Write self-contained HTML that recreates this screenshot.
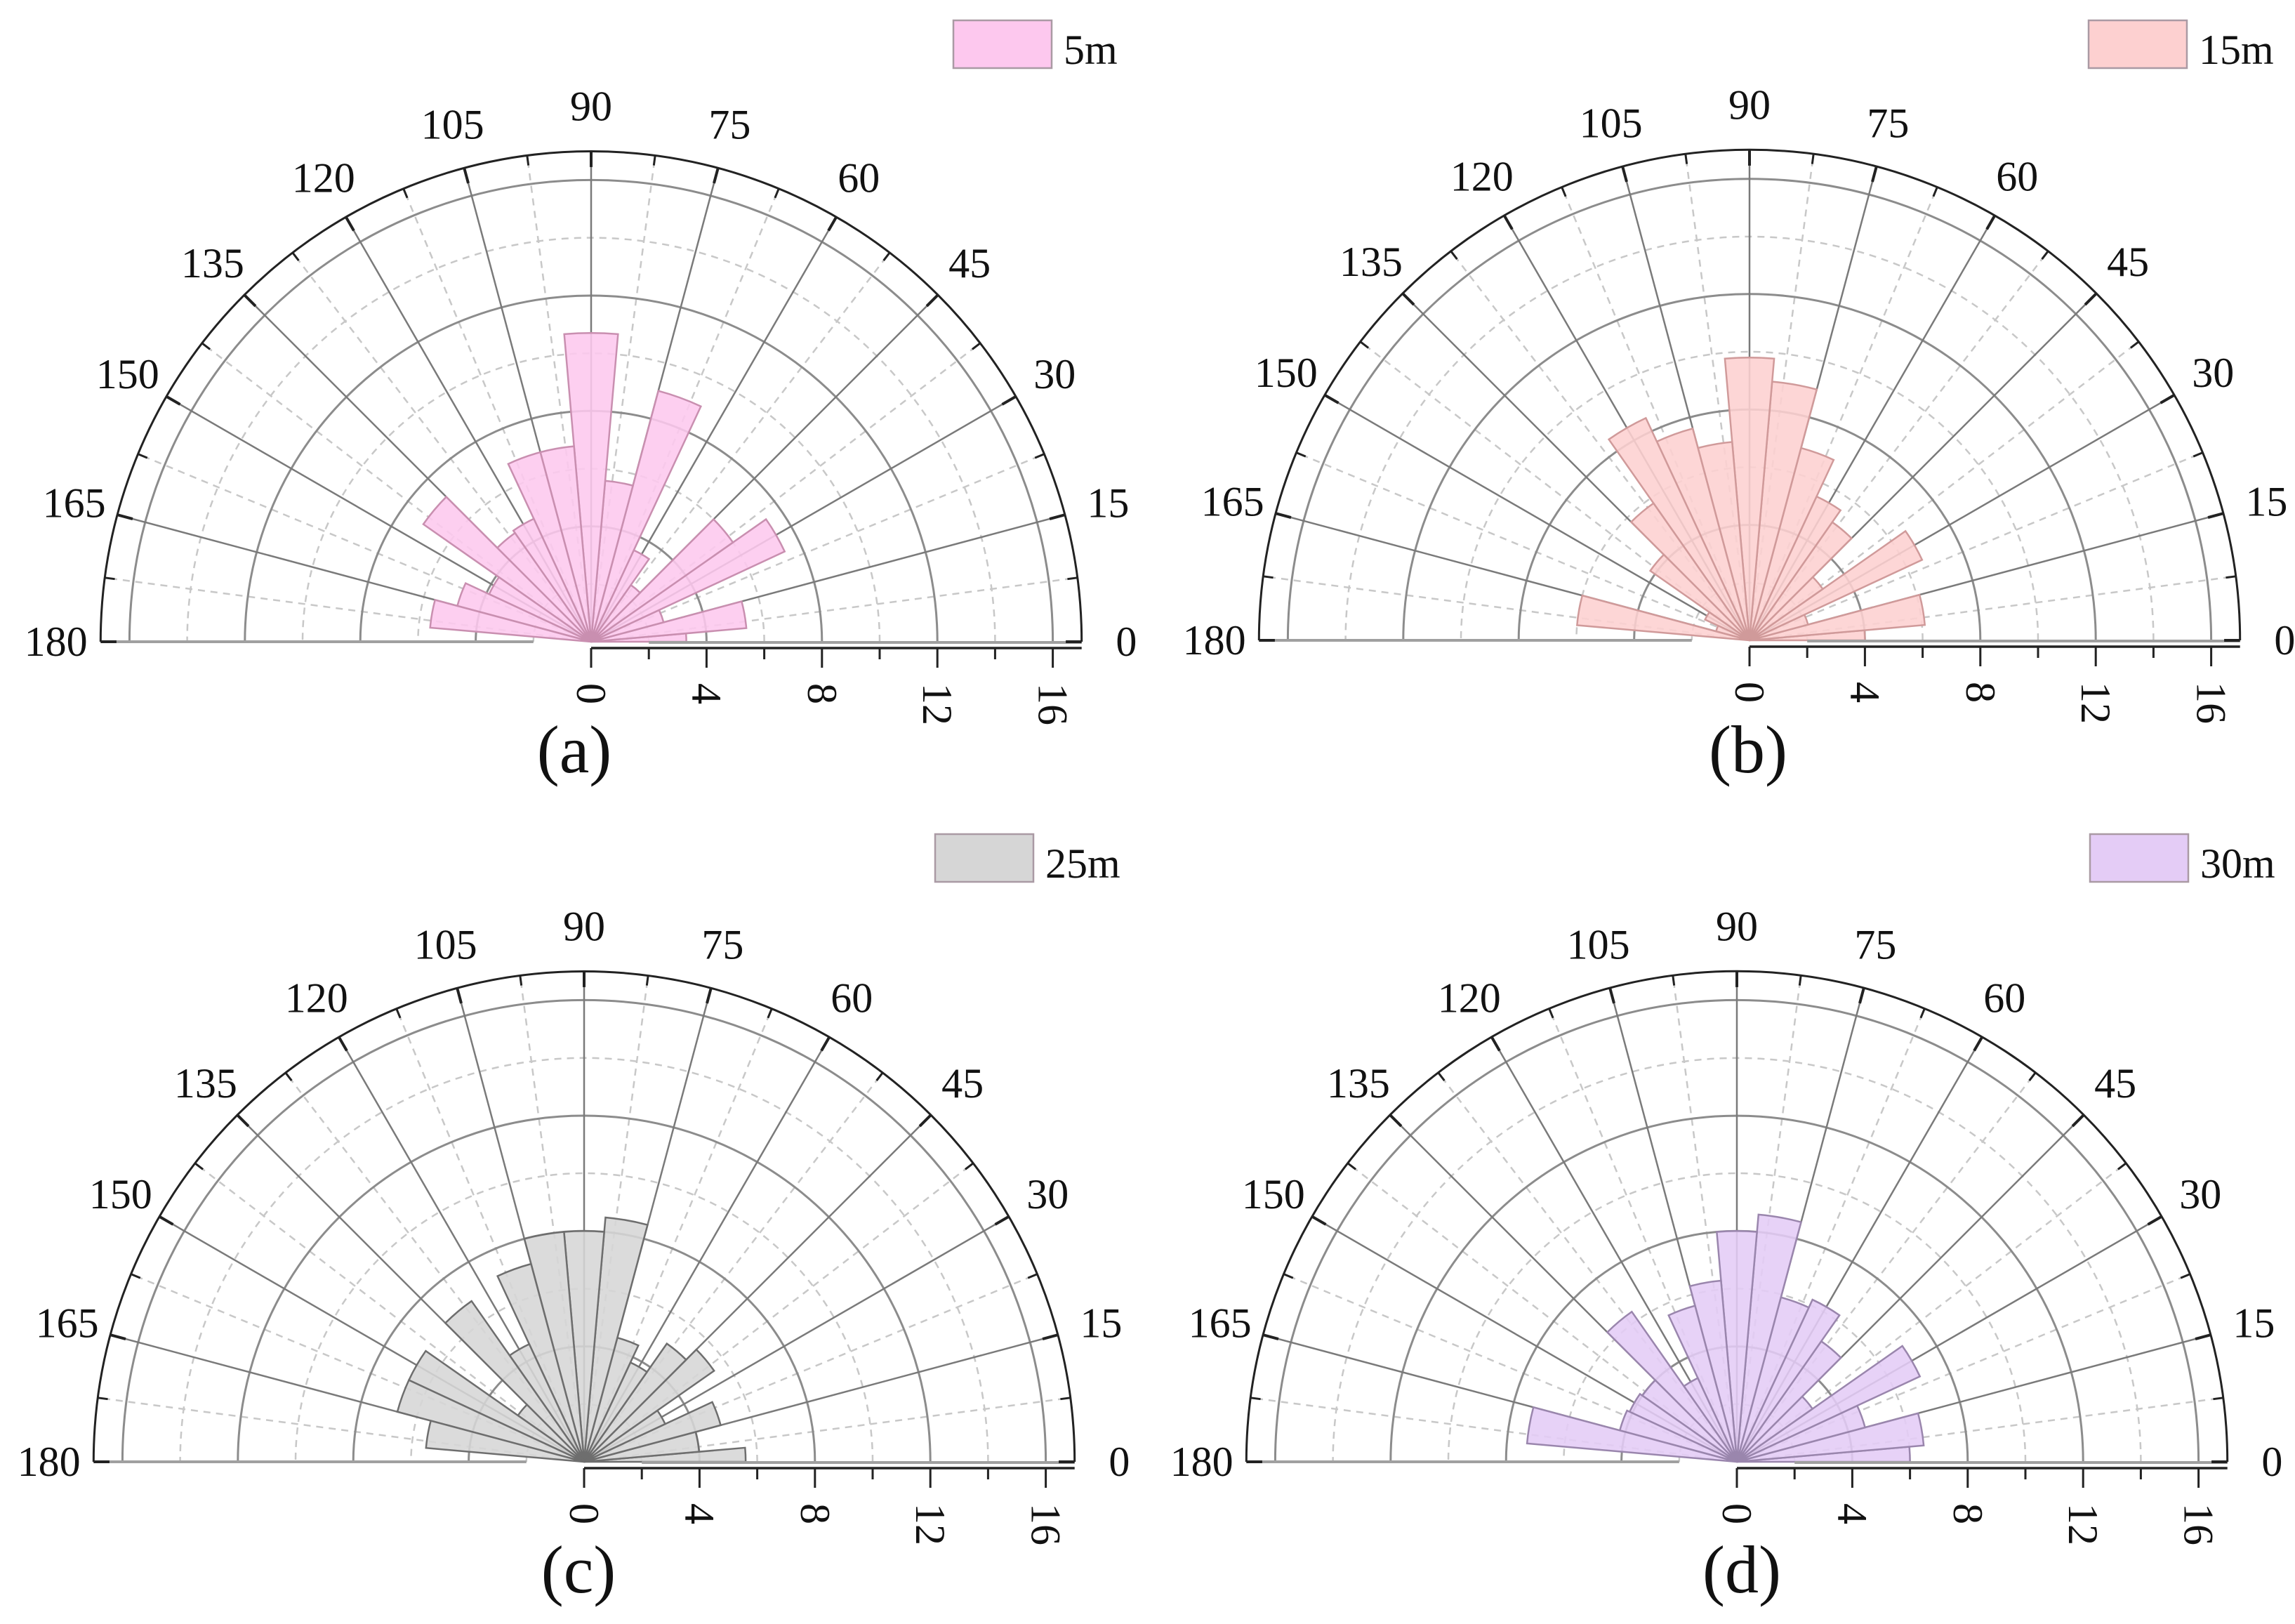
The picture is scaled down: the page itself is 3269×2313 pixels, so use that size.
<!DOCTYPE html>
<html><head><meta charset="utf-8"><style>
html,body{margin:0;padding:0;background:#fff;}
svg{display:block;font-family:"Liberation Serif",serif;}
</style></head><body>
<svg id="fig" width="3269" height="2313" viewBox="0 0 3269 2313" xmlns="http://www.w3.org/2000/svg"></svg>
<script>
const binCenters = [0,10,20,30,40,50,60,70,80,90,100,110,120,130,140,150,160,170,180];
const valuesA = [3.3,5.4,2.6,7.4,6.0,2.4,3.5,9.0,5.6,10.7,6.8,6.8,4.7,4.6,7.1,3.9,4.8,5.6,0];
const valuesB = [4.0,6.1,2.1,6.6,3.1,5.0,5.5,6.9,9.0,9.8,6.9,7.6,8.5,5.8,4.2,1.7,1.2,6.0,0];
const valuesC = [5.6,4.0,4.9,3.1,5.5,5.0,3.8,4.45,8.5,8.0,8.0,7.1,4.5,6.8,2.8,6.7,6.7,5.5,0];
const valuesD = [6.0,6.5,4.6,7.0,3.2,5.1,6.2,5.9,8.6,8.0,6.3,5.6,3.2,6.35,4.0,4.1,4.2,7.3,0];
const angleTicks = [0,15,30,45,60,75,90,105,120,135,150,165,180];
const radialTicks = [0,4,8,12,16];
const seriesNames = ["5m","15m","25m","30m"];
const panelLetters = ["(a)","(b)","(c)","(d)"];

const NS = "http://www.w3.org/2000/svg";
const svg = document.getElementById('fig');
const UNIT = 41.1, RMAX = 17;
const panels = [
  {cx:842, cy:914, vals:valuesA, fill:"#fdc8ee", stroke:"#c98fb0", lx:1358, ly:29, lab:[818,1100]},
  {cx:2492, cy:912, vals:valuesB, fill:"#fdd0d0", stroke:"#d09a9a", lx:2975, ly:29, lab:[2490,1100]},
  {cx:832, cy:2082, vals:valuesC, fill:"#d6d6d6", stroke:"#6e6e6e", lx:1332, ly:1188, lab:[824,2268]},
  {cx:2474, cy:2082, vals:valuesD, fill:"#e4ccf6", stroke:"#9a86ad", lx:2977, ly:1188, lab:[2481,2268]}
];
function mk(tag, attrs, parent){const e=document.createElementNS(NS,tag);for(const k in attrs)e.setAttribute(k,attrs[k]);(parent||svg).appendChild(e);return e;}
function pt(p,r,deg){const a=deg*Math.PI/180;return [p.cx+r*UNIT*Math.cos(a), p.cy-r*UNIT*Math.sin(a)];}
function arcPath(p,r,a0,a1){const s=pt(p,r,a0),e=pt(p,r,a1);return `M${s[0]},${s[1]} A${r*UNIT},${r*UNIT} 0 0 0 ${e[0]},${e[1]}`;}

panels.forEach((p,pi)=>{
  const g = mk('g',{});
  
  
  [2,6,10,14].forEach(r=>{const c=mk('path',{d:arcPath(p,r,0,180),fill:'none',stroke:'#c8c8c8','stroke-width':2.5,'stroke-dasharray':'10,8'},g);
    });
  for(let a=7.5;a<180;a+=15){const s=pt(p,0.8,a),e=pt(p,RMAX,a);const l=mk('line',{x1:s[0],y1:s[1],x2:e[0],y2:e[1],stroke:'#c8c8c8','stroke-width':2.5,'stroke-dasharray':'10,8'},g);
    }
  [4,8,12,16].forEach(r=>{const c=mk('path',{d:arcPath(p,r,0,180),fill:'none',stroke:'#8c8c8c','stroke-width':3},g);
    });
  angleTicks.forEach(a=>{if(a===0||a===180)return;const e=pt(p,RMAX,a);const l=mk('line',{x1:p.cx,y1:p.cy,x2:e[0],y2:e[1],stroke:'#7a7a7a','stroke-width':2.5},g);
    });
  binCenters.forEach((c,i)=>{const v=p.vals[i];if(!(v>0))return;
    const a0=Math.max(0,c-5),a1=Math.min(180,c+5);const s=pt(p,v,a0),e=pt(p,v,a1);
    const b=mk('path',{d:`M${p.cx},${p.cy} L${s[0]},${s[1]} A${v*UNIT},${v*UNIT} 0 0 0 ${e[0]},${e[1]} Z`,fill:p.fill,'fill-opacity':0.88,stroke:p.stroke,'stroke-width':2.5},g);
    });
  const bl=mk('line',{x1:p.cx-RMAX*UNIT,y1:p.cy,x2:p.cx-2*UNIT,y2:p.cy,stroke:'#a0a0a0','stroke-width':4},g);
  
  const br=mk('line',{x1:p.cx+2*UNIT,y1:p.cy+1,x2:p.cx+RMAX*UNIT,y2:p.cy+1,stroke:'#a0a0a0','stroke-width':4},g);
  
  const oa=mk('path',{d:arcPath(p,RMAX,0,180),fill:'none',stroke:'#222','stroke-width':3},g);
  
  for(let a=0;a<=180;a+=7.5){const major=(a%15===0);const s=pt(p,RMAX,a),e=pt(p,RMAX-(major?0.55:0.35),a);
    const t=mk('line',{x1:s[0],y1:s[1],x2:e[0],y2:e[1],stroke:'#222','stroke-width':major?4:3},g);
    }
  angleTicks.forEach(a=>{const q=pt(p,RMAX+1.55,a);const t=mk('text',{x:q[0],y:q[1],'font-size':60,'text-anchor':'middle','dominant-baseline':'central',fill:'#111'},g);
    t.textContent=String(a);});
  const ay=p.cy+9;
  const ra=mk('line',{x1:p.cx,y1:ay,x2:p.cx+RMAX*UNIT,y2:ay,stroke:'#222','stroke-width':3.5},g);
  
  for(let r=0;r<=16;r+=2){const x=p.cx+r*UNIT;const t=mk('line',{x1:x,y1:ay,x2:x,y2:ay+(r%4===0?28:16),stroke:'#222','stroke-width':3},g);
    }
  radialTicks.forEach(r=>{const x=p.cx+r*UNIT,y=ay+50;const t=mk('text',{x:x,y:y,'font-size':60,'dominant-baseline':'central','text-anchor':'start',transform:`rotate(90 ${x} ${y})`,fill:'#111'},g);
    t.textContent=String(r);});
  const lr=mk('rect',{x:p.lx,y:p.ly,width:140,height:68,fill:p.fill,stroke:'#aa9aa4','stroke-width':2.5},g);
  
  const lt=mk('text',{x:p.lx+157,y:p.ly+62,'font-size':60,fill:'#111'},g);
  lt.textContent=seriesNames[pi];
  const pl=mk('text',{x:p.lab[0],y:p.lab[1],'font-size':96,'text-anchor':'middle',fill:'#111'},g);
  pl.textContent=panelLetters[pi];
});
</script>
</body></html>
